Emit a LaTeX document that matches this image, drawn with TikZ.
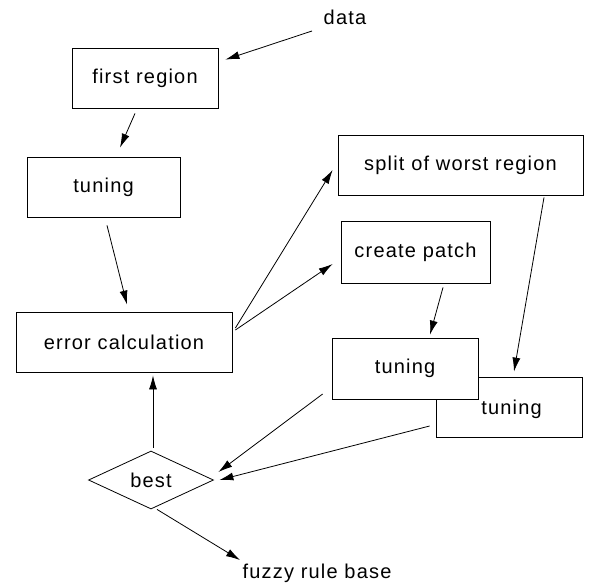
\documentclass[tikz,border=0pt]{standalone}
\usepackage{fontspec}
\setmainfont{Liberation Sans}[LetterSpace=6]
\usetikzlibrary{shapes.geometric,calc,arrows.meta}
\begin{document}
\begin{tikzpicture}[x=1pt,y=-1pt,
  box/.style={draw,line width=0.8pt,fill=white,inner sep=0pt},
  lbl/.style={font=\fontsize{20}{23}\selectfont},
  arr/.style={line width=0.8pt,-{Latex[length=14pt,width=8pt]}},
  line/.style={line width=0.8pt}]
\useasboundingbox (0,0) rectangle (593,587);
\node[lbl] (data) at (345,17) {data};
\node[box,lbl,minimum width=146pt,minimum height=60pt] (fr) at (145,78) {first region};
\node[box,lbl,minimum width=153pt,minimum height=60pt] (tun) at (103.5,187) {tuning};
\node[box,lbl,minimum width=216pt,minimum height=60pt] (err) at (124,342) {error calculation};
\node[box,lbl,minimum width=245pt,minimum height=60pt] (split) at (460.5,165) {split of worst region};
\node[box,lbl,minimum width=149pt,minimum height=62pt] (patch) at (415.5,252) {create patch};
\node[box,lbl,minimum width=146pt,minimum height=60pt,text depth=0pt] (t2) at (509,407) {\hspace{5pt}tuning};
\node[box,lbl,minimum width=146pt,minimum height=61pt] (t1) at (405,368.5) {tuning};
\node[draw,line width=0.8pt,diamond,aspect=2.15,inner sep=0pt,minimum width=125pt,minimum height=58pt,lbl] (best) at (151,480) {best};
\node[lbl] (fuzzy) at (317,573) {fuzzy rule base};
\draw[arr] ($(data)+(-33,14)$) -- ($(fr.north east)+(7,12)$);
\draw[arr] ($(fr.south)+(-10,5)$) -- ($(tun.north)+(16.5,-9)$);
\draw[arr] ($(tun.south)+(3.5,8)$) -- ($(err.north)+(3,-7)$);
\draw[arr] ($(err.east)+(3,-14)$) -- ($(split.west)+(-5,5)$);
\draw[arr] ($(err.east)+(3,-12)$) -- ($(patch.west)+(-8,12)$);
\draw[arr] ($(patch.south)+(27.5,4)$) -- ($(t1.north)+(25,-3)$);
\draw[arr] ($(split.south)+(83.5,2)$) -- ($(t2.north)+(5,-5)$);
\draw[arr] ($(t1.west)+(-9,25.5)$) -- ($(best.east)+(4.5,-8)$);
\draw[arr] ($(t2.west)+(-6,19)$) -- ($(best.east)+(5.5,0)$);
\draw[arr] ($(best.north)+(2,-3)$) -- ($(err.south)+(29,3)$);
\draw[arr] ($(best.south)+(6,0)$) -- ($(fuzzy)+(-77,-13)$);
\end{tikzpicture}
\end{document}
